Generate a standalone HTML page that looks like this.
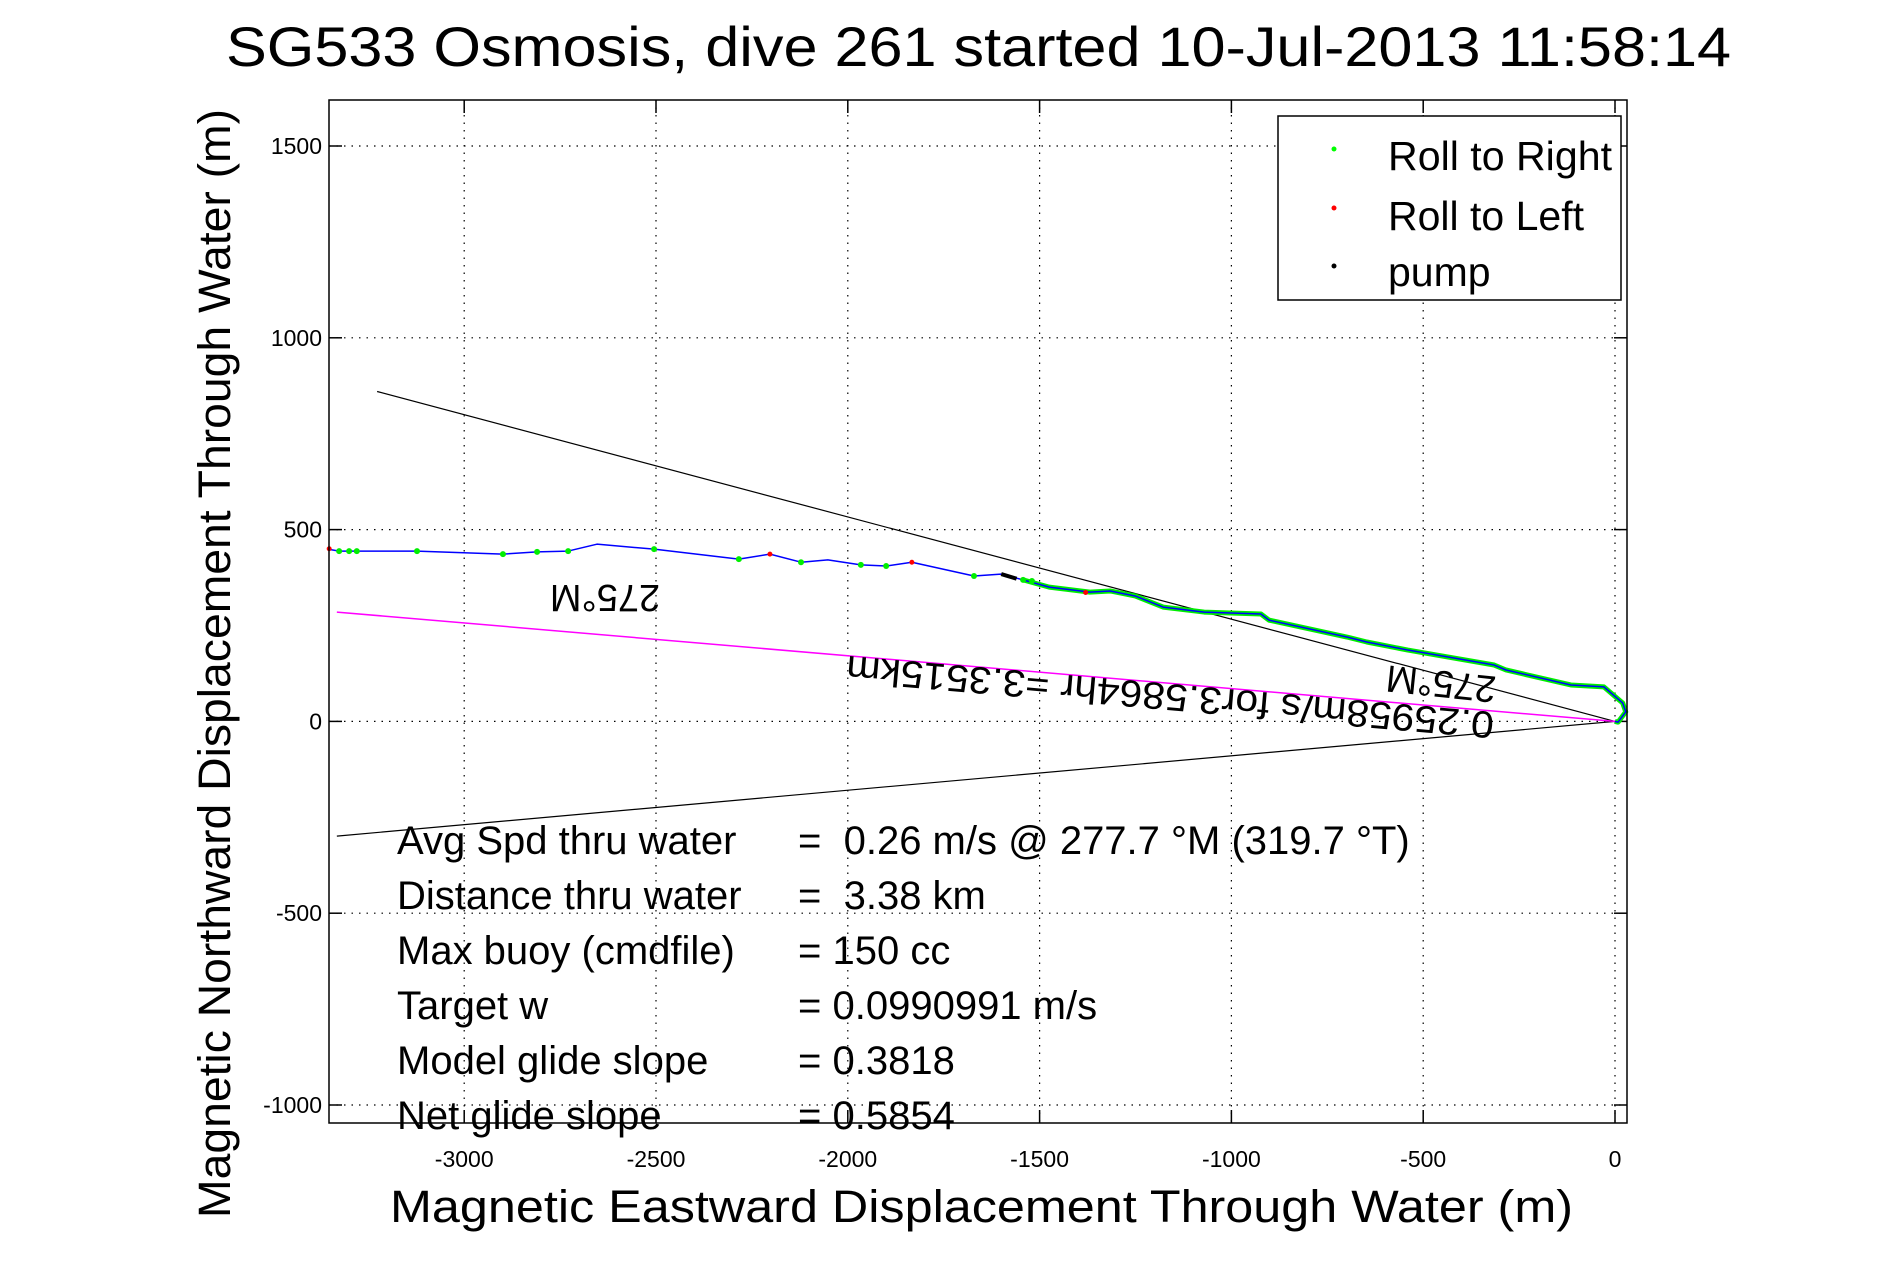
<!DOCTYPE html>
<html><head><meta charset="utf-8"><style>
html,body{margin:0;padding:0;background:#fff;}
svg{display:block;font-family:"Liberation Sans",Arial,sans-serif;}
</style></head><body>
<svg id="chart" width="1891" height="1262" viewBox="0 0 1891 1262" xmlns="http://www.w3.org/2000/svg">
<rect width="1891" height="1262" fill="#fff"/>
<text x="226" y="66" font-size="56" textLength="1505" lengthAdjust="spacingAndGlyphs">SG533 Osmosis, dive 261 started 10-Jul-2013 11:58:14</text>
<g id="grid"></g>
<g id="ticks"></g>
<g id="marks"></g>
<rect x="329" y="100" width="1298" height="1023" fill="none" stroke="#000" stroke-width="1.5"/>
<text x="390" y="1222" font-size="45" textLength="1183" lengthAdjust="spacingAndGlyphs">Magnetic Eastward Displacement Through Water (m)</text>
<text transform="translate(230,1218) rotate(-90)" font-size="45" textLength="1109" lengthAdjust="spacingAndGlyphs">Magnetic Northward Displacement Through Water (m)</text>
<g font-size="40" style="white-space:pre">
<text x="397" y="854">Avg Spd thru water</text><text x="798" y="854" xml:space="preserve">=  0.26 m/s @ 277.7 °M (319.7 °T)</text>
<text x="397" y="909">Distance thru water</text><text x="798" y="909" xml:space="preserve">=  3.38 km</text>
<text x="397" y="964">Max buoy (cmdfile)</text><text x="798" y="964">= 150 cc</text>
<text x="397" y="1019">Target w</text><text x="798" y="1019">= 0.0990991 m/s</text>
<text x="397" y="1074">Model glide slope</text><text x="798" y="1074">= 0.3818</text>
<text x="397" y="1129">Net glide slope</text><text x="798" y="1129">= 0.5854</text>
</g>
<g>
<rect x="1278" y="116" width="343" height="184" fill="#fff" stroke="#000" stroke-width="1.5"/>
<circle cx="1334" cy="149" r="2.5" fill="#00ff00"/>
<text x="1388" y="170" font-size="41" textLength="224" lengthAdjust="spacingAndGlyphs">Roll to Right</text>
<circle cx="1334" cy="208" r="2.5" fill="#ff0000"/>
<text x="1388" y="230" font-size="41" textLength="196" lengthAdjust="spacingAndGlyphs">Roll to Left</text>
<circle cx="1334" cy="266" r="2.5" fill="#000"/>
<text x="1388" y="286" font-size="41">pump</text>
</g>
</svg>
<script>
const xTicks=[-3000,-2500,-2000,-1500,-1000,-500,0];
const yTicks=[-1000,-500,0,500,1000,1500];
const trackX=[-3350,-3326,-3123,-2899,-2810,-2729,-2654,-2505,-2284,-2203,-2122,-2052,-1966,-1900,-1833,-1671,-1601,-1543,-1475,-1369,-1316,-1251,-1178,-1071,-923,-902,-699,-647,-540,-315,-284,-115,-29,20,28,8,0];
const trackY=[448,444,444,436,442,444,462,449,423,436,415,421,408,405,415,379,384,369,350,337,340,327,298,285,280,264,220,207,186,147,134,95,90,48,25,-2,0];
const greenX=[-3326,-3300,-3280,-3123,-2899,-2810,-2729,-2505,-2284,-2122,-1966,-1900,-1671,-1543,-1520];
const greenY=[444,444,444,444,436,442,444,449,423,415,408,405,379,369,366];
const redX=[-3352,-2203,-1833,-1380];
const redY=[450,436,415,336];
const pumpX=[-1600,-1560];
const pumpY=[384,372];
const headingLineX=[-3227,-3332];
const headingLineY=[860,-299];
const avgLineX=[-3332];
const avgLineY=[285];
const NS='http://www.w3.org/2000/svg';
const sx=v=>1615+v*0.3836, sy=v=>721.4-v*0.3836;
function mk(p,t,a){const e=document.createElementNS(NS,t);for(const k in a)e.setAttribute(k,a[k]);p.appendChild(e);return e;}
const grid=document.getElementById('grid'),ticks=document.getElementById('ticks'),marks=document.getElementById('marks');
xTicks.forEach(v=>{const x=sx(v);
 const g=mk(grid,'line',{x1:x,x2:x,y1:100,y2:1123,stroke:'#000','stroke-width':1.2,'stroke-dasharray':'1.5 6'});
 
 
 mk(ticks,'line',{x1:x,x2:x,y1:1123,y2:1110,stroke:'#000','stroke-width':1.5});
 mk(ticks,'line',{x1:x,x2:x,y1:100,y2:113,stroke:'#000','stroke-width':1.5});
 const t=mk(ticks,'text',{x:x,y:1167,'font-size':23,'text-anchor':'middle'});t.textContent=v;
 
 });
yTicks.forEach(v=>{const y=sy(v);
 const g=mk(grid,'line',{x1:329,x2:1627,y1:y,y2:y,stroke:'#000','stroke-width':1.2,'stroke-dasharray':'1.5 6'});
 
 
 mk(ticks,'line',{x1:329,x2:342,y1:y,y2:y,stroke:'#000','stroke-width':1.5});
 mk(ticks,'line',{x1:1614,x2:1627,y1:y,y2:y,stroke:'#000','stroke-width':1.5});
 const t=mk(ticks,'text',{x:322,y:y+8,'font-size':23,'text-anchor':'end'});t.textContent=v;
 
 });
headingLineX.forEach((v,i)=>{const l=mk(marks,'line',{x1:sx(0),y1:sy(0),x2:sx(v),y2:sy(headingLineY[i]),stroke:'#000','stroke-width':1.2});
 
 });
avgLineX.forEach((v,i)=>{const l=mk(marks,'line',{x1:sx(0),y1:sy(0),x2:sx(v),y2:sy(avgLineY[i]),stroke:'#ff00ff','stroke-width':1.5});
 
 });
let pts=[];trackX.forEach((v,i)=>{if(v>=-1560)pts.push(sx(v)+','+sy(trackY[i]));});
const gu=mk(marks,'polyline',{points:pts.join(' '),fill:'none',stroke:'#00ee00','stroke-width':5,'stroke-linejoin':'round'});


const tr=mk(marks,'polyline',{points:trackX.map((v,i)=>sx(v)+','+sy(trackY[i])).join(' '),fill:'none',stroke:'#0000ff','stroke-width':1.5,'stroke-linejoin':'round'});


greenX.forEach((v,i)=>{const c=mk(marks,'circle',{cx:sx(v),cy:sy(greenY[i]),r:3,fill:'#00ee00'});
 
 });
redX.forEach((v,i)=>{const c=mk(marks,'circle',{cx:sx(v),cy:sy(redY[i]),r:2.5,fill:'#ff0000'});
 
 });
const pm=mk(marks,'line',{x1:sx(pumpX[0]),y1:sy(pumpY[0]),x2:sx(pumpX[1]),y2:sy(pumpY[1]),stroke:'#000','stroke-width':4});


const l1=mk(marks,'text',{transform:'translate(605,598) rotate(180)','font-size':38,'text-anchor':'middle',y:13});l1.textContent='275°M';


const l2=mk(marks,'text',{transform:'translate(1441,684) rotate(186)','font-size':38,'text-anchor':'middle',y:13});l2.textContent='275°M';


const l3=mk(marks,'text',{transform:'translate(1170,697) rotate(185)','font-size':38,'text-anchor':'middle',y:13,textLength:650,lengthAdjust:'spacingAndGlyphs'});l3.textContent='0.25958m/s for3.5864hr =3.3515km';


</script>
</body></html>
